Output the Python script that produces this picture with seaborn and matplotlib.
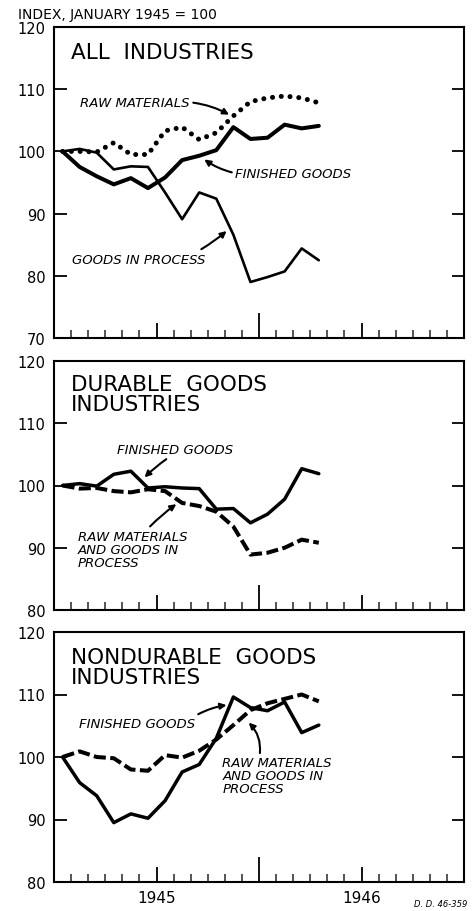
import matplotlib
matplotlib.use("Agg")
import matplotlib.pyplot as plt
import numpy as np
import seaborn as sns

# monthly index, January 1945 = 100
months = ["Jan 1945", "Feb 1945", "Mar 1945", "Apr 1945", "May 1945", "Jun 1945",
          "Jul 1945", "Aug 1945", "Sep 1945", "Oct 1945", "Nov 1945", "Dec 1945",
          "Jan 1946", "Feb 1946", "Mar 1946", "Apr 1946"]
year_labels = ["1945", "", "1946"]

all_finished = [100, 97.5, 96.0, 94.7, 95.7, 94.1, 95.8, 98.6,
                99.3, 100.2, 103.9, 102.0, 102.2, 104.3, 103.7, 104.1]
all_in_process = [100, 100.4, 99.8, 97.1, 97.6, 97.5, 93.4, 89.1,
                  93.4, 92.4, 86.6, 79.0, 79.8, 80.7, 84.4, 82.5]
all_raw = [100, 100.0, 99.9, 101.4, 99.5, 99.5, 103.3, 103.9,
           101.9, 103.0, 105.7, 108.0, 108.6, 108.9, 108.6, 107.8]

durable_finished = [100, 100.3, 99.9, 101.8, 102.3, 99.6, 99.8, 99.6,
                    99.5, 96.2, 96.3, 94.0, 95.4, 97.8, 102.7, 101.9]
durable_raw_process = [100, 99.5, 99.6, 99.1, 98.9, 99.4, 99.1, 97.2,
                       96.7, 95.8, 93.4, 88.9, 89.2, 90.0, 91.3, 90.8]

nondurable_finished = [100, 95.9, 93.8, 89.5, 90.9, 90.2, 93.0, 97.6,
                       98.8, 103.0, 109.6, 107.9, 107.4, 108.8, 103.9, 105.1]
nondurable_raw_process = [100, 100.9, 100.0, 99.8, 98.0, 97.8, 100.3, 99.9,
                          101.0, 102.8, 105.1, 107.5, 108.6, 109.3, 110.0, 108.9]

# points sit in the middle of each month slot
x = np.arange(len(months)) + 0.5

sns.set_theme(style="ticks")
plt.rcParams["font.family"] = ["DejaVu Sans"]

DASHED = (0, (3, 1.1))
DOTTED = (0, (0.01, 1.75))
ARROW = dict(arrowstyle="-|>", color="black", lw=1.5, mutation_scale=9,
             shrinkA=0, shrinkB=0)


def style_axes(ax, ymin, show_years=False):
    ax.set_xlim(0, 24)
    ax.set_ylim(ymin, 120)
    ax.set_yticks(range(ymin, 121, 10))
    for side in ax.spines.values():
        side.set_visible(True)
        side.set_linewidth(1.5)
        side.set_color("black")
    ax.tick_params(axis="y", direction="in", length=9, width=1.3, left=True,
                   right=True, labelsize=10.5, pad=6, colors="black")
    ax.set_xticks([6, 12, 18])
    ax.set_xticks([m for m in range(1, 24) if m % 6], minor=True)
    ax.set_xticklabels(year_labels if show_years else ["", "", ""])
    ax.tick_params(axis="x", which="major", direction="in", length=11,
                   width=1.3, bottom=True, top=False, labelsize=11, pad=6,
                   colors="black")
    ax.tick_params(axis="x", which="minor", direction="in", length=5.5,
                   width=1.1, bottom=True, top=False)
    # year boundary gets the tallest tick
    ax.xaxis.get_major_ticks()[1].tick1line.set_markersize(18)
    ax.set_xlabel("")
    ax.set_ylabel("")
    ax.grid(False)


fig = plt.figure(figsize=(4.75, 9.12), dpi=100)
ax_all = fig.add_axes([54 / 475, 1 - 339 / 912, 410 / 475, 311 / 912])
ax_dur = fig.add_axes([54 / 475, 1 - 611 / 912, 410 / 475, 249 / 912])
ax_non = fig.add_axes([54 / 475, 1 - 883 / 912, 410 / 475, 250 / 912])

label_kw = dict(fontsize=9.5, style="italic", color="black")
title_kw = dict(fontsize=15.5, color="black", va="top", ha="left",
                linespacing=1.0)

# all industries
sns.lineplot(x=x, y=all_raw, ax=ax_all, color="black", linewidth=3.6,
             linestyle=DOTTED, dash_capstyle="round")
sns.lineplot(x=x, y=all_in_process, ax=ax_all, color="black", linewidth=1.9)
sns.lineplot(x=x, y=all_finished, ax=ax_all, color="black", linewidth=2.9)
style_axes(ax_all, 70)
ax_all.text(0.041, 0.952, "ALL  INDUSTRIES", transform=ax_all.transAxes, **title_kw)
ax_all.annotate("RAW MATERIALS", xy=(10.25, 105.9), xytext=(1.55, 107.9),
                va="center", ha="left",
                arrowprops=dict(ARROW, relpos=(1, 0.5),
                                connectionstyle="arc3,rad=-0.1"), **label_kw)
ax_all.annotate("FINISHED GOODS", xy=(8.8, 98.7), xytext=(10.6, 96.5),
                va="center", ha="left",
                arrowprops=dict(ARROW, relpos=(0, 0.5),
                                connectionstyle="arc3,rad=-0.1"), **label_kw)
ax_all.annotate("GOODS IN PROCESS", xy=(10.1, 87.2), xytext=(1.03, 82.7),
                va="center", ha="left",
                arrowprops=dict(ARROW, relpos=(0.93, 1),
                                connectionstyle="arc3,rad=0.05"), **label_kw)

# durable goods
sns.lineplot(x=x, y=durable_raw_process, ax=ax_dur, color="black",
             linewidth=2.9, linestyle=DASHED)
sns.lineplot(x=x, y=durable_finished, ax=ax_dur, color="black", linewidth=2.5)
style_axes(ax_dur, 80)
ax_dur.text(0.041, 0.948, "DURABLE  GOODS\nINDUSTRIES",
            transform=ax_dur.transAxes, **title_kw)
ax_dur.annotate("FINISHED GOODS", xy=(5.3, 101.3), xytext=(3.66, 105.8),
                va="center", ha="left",
                arrowprops=dict(ARROW, relpos=(0.47, 0),
                                connectionstyle="arc3,rad=0.05"), **label_kw)
ax_dur.annotate("RAW MATERIALS\nAND GOODS IN\nPROCESS", xy=(7.16, 97.0),
                xytext=(1.4, 92.9), va="top", ha="left", linespacing=1.0,
                arrowprops=dict(ARROW, relpos=(0.63, 1),
                                connectionstyle="arc3,rad=-0.05"), **label_kw)

# nondurable goods
sns.lineplot(x=x, y=nondurable_raw_process, ax=ax_non, color="black",
             linewidth=2.9, linestyle=DASHED)
sns.lineplot(x=x, y=nondurable_finished, ax=ax_non, color="black", linewidth=2.5)
style_axes(ax_non, 80, show_years=True)
ax_non.text(0.041, 0.94, "NONDURABLE  GOODS\nINDUSTRIES",
            transform=ax_non.transAxes, **title_kw)
ax_non.annotate("FINISHED GOODS", xy=(10.1, 108.3), xytext=(1.45, 105.3),
                va="center", ha="left",
                arrowprops=dict(ARROW, relpos=(0.98, 1),
                                connectionstyle="arc3,rad=-0.1"), **label_kw)
ax_non.annotate("RAW MATERIALS\nAND GOODS IN\nPROCESS", xy=(11.4, 105.5),
                xytext=(9.85, 100.1), va="top", ha="left", linespacing=1.0,
                arrowprops=dict(ARROW, relpos=(0.34, 1),
                                connectionstyle="arc3,rad=0.25"), **label_kw)

fig.text(18 / 475, 1 - 19 / 912, "INDEX, JANUARY 1945 = 100", fontsize=10,
         color="black", va="baseline", ha="left")
fig.text(467 / 475, 0.003, "D. D. 46-359", fontsize=6, style="italic",
         color="black", va="bottom", ha="right")

fig.savefig("out.png", dpi=100, facecolor="white")
